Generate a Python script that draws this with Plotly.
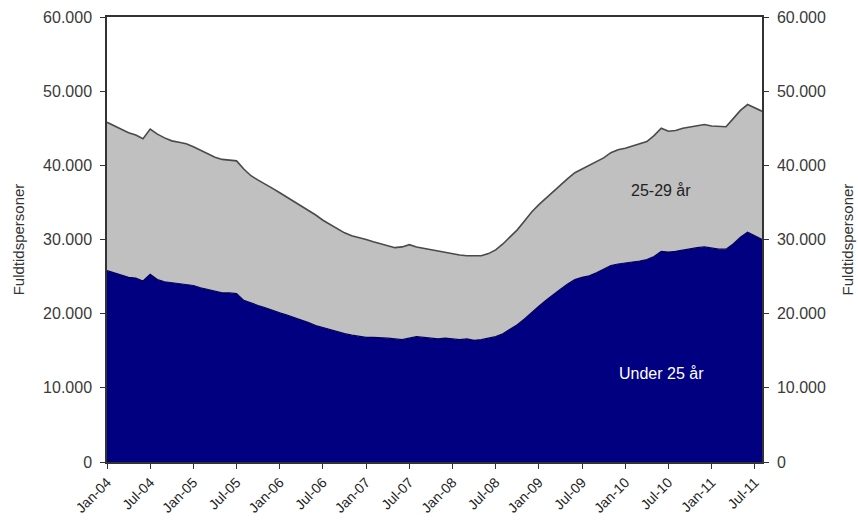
import plotly.graph_objects as go

# Monthly observations, Jan 2004 - Aug 2011
month_names = ["Jan", "Feb", "Mar", "Apr", "Maj", "Jun",
               "Jul", "Aug", "Sep", "Okt", "Nov", "Dec"]
years = ["04", "05", "06", "07", "08", "09", "10", "11"]
months = [f"{m}-{y}" for y in years for m in month_names][:92]

# Full-time persons, under 25 years
under_25 = [
    25800, 25500, 25100, 24900, 24800, 24400, 25300, 24600, 24300, 24200, 24100, 23900,
    23800, 23500, 23300, 23000, 22800, 22800, 22700, 21800, 21400, 21100, 20800, 20400,
    20100, 19800, 19500, 19200, 18800, 18400, 18100, 17800, 17500, 17300, 17100, 16900,
    16800, 16800, 16800, 16700, 16600, 16500, 16700, 16900, 16800, 16700, 16600, 16700,
    16600, 16500, 16600, 16400, 16500, 16700, 16900, 17300, 17900, 18500, 19300, 20200,
    21000, 21800, 22600, 23300, 24000, 24600, 24900, 25100, 25500, 26000, 26500, 26700,
    26800, 27000, 27100, 27300, 27700, 28400, 28300, 28400, 28600, 28800, 28900, 29000,
    28800, 28700, 28700, 29400, 30300, 31000, 30500, 30000,
]

# Full-time persons, 25-29 years
age_25_29 = [
    20000, 19800, 19700, 19500, 19300, 19200, 19600, 19600, 19400, 19100, 19000, 19000,
    18700, 18500, 18300, 18100, 18000, 17900, 17900, 17700, 17200, 16900, 16700, 16500,
    16200, 15900, 15600, 15400, 15200, 14900, 14500, 14200, 13900, 13600, 13400, 13400,
    13200, 12900, 12600, 12400, 12300, 12500, 12600, 12100, 12000, 11900, 11800, 11600,
    11500, 11400, 11200, 11400, 11300, 11400, 11700, 12100, 12400, 12800, 13200, 13500,
    13700, 13800, 13900, 14100, 14200, 14400, 14600, 14800, 14900, 15000, 15200, 15400,
    15500, 15600, 15700, 15900, 16300, 16600, 16300, 16300, 16400, 16400, 16500, 16500,
    16500, 16500, 16500, 16900, 17100, 17200, 17300, 17300,
]

tick_months = months[::6]

FONT = "Liberation Sans, Arial, sans-serif"
AXIS_COLOR = "#333333"

fig = go.Figure()
fig.add_trace(go.Scatter(
    x=months, y=under_25, name="Under 25 år", mode="lines",
    stackgroup="one", line=dict(color="#00005a", width=1.2),
    fillcolor="#000080",
))
fig.add_trace(go.Scatter(
    x=months, y=age_25_29, name="25-29 år", mode="lines",
    stackgroup="one", line=dict(color="#4a4a4a", width=1.6),
    fillcolor="#c0c0c0",
))

# Secondary axis mirrors the primary scale on the right side
fig.add_trace(go.Scatter(
    x=[months[0]], y=[0], yaxis="y2", mode="markers",
    marker=dict(opacity=0), showlegend=False, hoverinfo="skip",
))

fig.add_annotation(x=months[77], y=36600, text="25-29 år", showarrow=False,
                   font=dict(family=FONT, size=16, color="#222222"))
fig.add_annotation(x=months[77], y=12000, text="Under 25 år", showarrow=False,
                   font=dict(family=FONT, size=16, color="#ffffff"))

axis_common = dict(
    range=[0, 60000], tickvals=[0, 10000, 20000, 30000, 40000, 50000, 60000],
    tickformat=",.0f", showgrid=False, zeroline=False, automargin=False,
    showline=True, linecolor=AXIS_COLOR, linewidth=1.5,
    ticks="outside", ticklen=5, tickcolor=AXIS_COLOR, tickwidth=1.2,
    ticklabelstandoff=5,
    tickfont=dict(family=FONT, size=16, color="#3a3a3a"),
)

fig.update_layout(
    width=858, height=528,
    margin=dict(l=107, r=96, t=17, b=66),
    paper_bgcolor="white", plot_bgcolor="white",
    separators=",.",
    showlegend=False,
    xaxis=dict(
        type="category", range=[0, len(months) - 1],
        tickvals=tick_months, ticktext=tick_months, tickangle=-45,
        showgrid=False, zeroline=False, automargin=False,
        showline=True, mirror=True, linecolor=AXIS_COLOR, linewidth=1.5,
        ticks="outside", ticklen=5, tickcolor=AXIS_COLOR, tickwidth=1.2,
        tickfont=dict(family=FONT, size=14, color="#222222"),
    ),
    yaxis=dict(
        **axis_common,
        title=dict(text="Fuldtidspersoner", standoff=15,
                   font=dict(family=FONT, size=15, color="#333333")),
    ),
    yaxis2=dict(
        **axis_common,
        overlaying="y", side="right",
        title=dict(text="Fuldtidspersoner", standoff=18,
                   font=dict(family=FONT, size=15, color="#333333")),
    ),
)

fig.write_html("out.html")
